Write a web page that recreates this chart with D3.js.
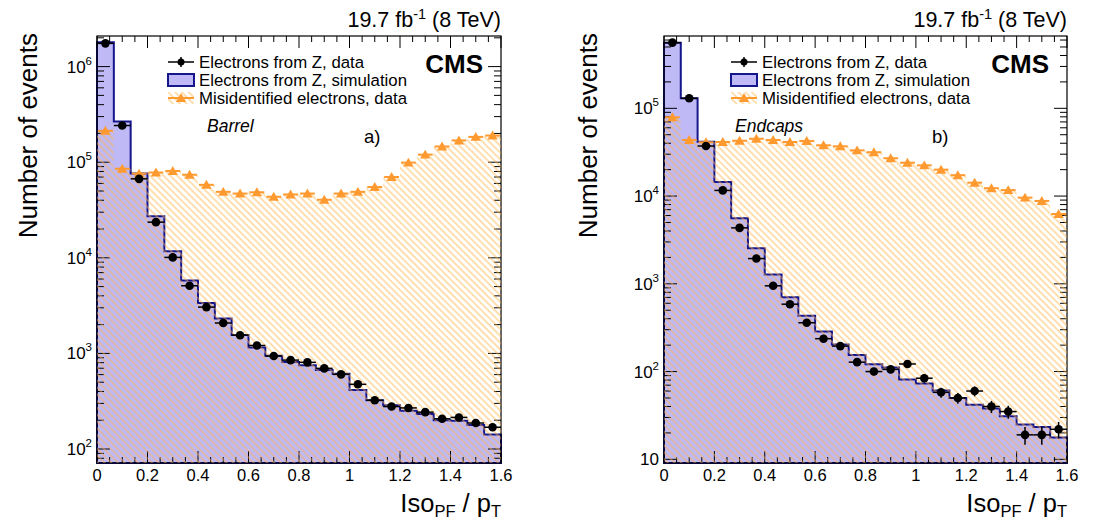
<!DOCTYPE html>
<html lang="en">
<head>
    <meta charset="UTF-8">
    <title>Electron isolation, barrel and endcaps</title>
    <style>
        body, html {
            margin: 0;
            background-color: #ffffff;
        }
        svg {
            display: block;
            font-family: "Liberation Sans", Arial, Helvetica, sans-serif;
        }
    </style>
</head>
<body>
    <script src="https://d3js.org/d3.v7.min.js"></script>
    <script>
        // Canvas
        var width = 1102,
            height = 527;

        // 24 bins from 0 to 1.6
        var nBins = 24,
            xMax = 1.6;

        // Barrel (a)
        var barrelZData = [1.75e6, 2.42e5, 6.7e4, 2.36e4, 1.01e4, 5.1e3, 3.05e3, 2.08e3,
                           1.55e3, 1.21e3, 938, 851, 806, 698, 604, 475,
                           324, 278, 269, 243, 207, 214, 187, 169];
        var barrelZSim = [1.8e6, 2.67e5, 7.6e4, 2.72e4, 1.17e4, 5.8e3, 3.37e3, 2.32e3,
                          1.56e3, 1.15e3, 944, 811, 750, 670, 613, 415,
                          324, 287, 252, 232, 200, 197, 178, 142];
        var barrelMisId = [2.13e5, 8.55e4, 7.6e4, 7.8e4, 8.1e4, 7.4e4, 5.8e4, 4.9e4,
                           4.7e4, 4.85e4, 4.35e4, 4.6e4, 4.7e4, 4.05e4, 4.7e4, 4.9e4,
                           5.5e4, 7.0e4, 9.9e4, 1.2e5, 1.46e5, 1.69e5, 1.84e5, 1.9e5];

        // Endcaps (b)
        var endcapZData = [5.6e5, 1.3e5, 3.72e4, 1.16e4, 4.34e3, 1.94e3, 949, 586,
                           360, 237, 195, 128, 100, 106, 122, 84,
                           58, 50, 60, 40, 35, 19, 19, 22];
        var endcapZSim = [5.6e5, 1.3e5, 4.17e4, 1.45e4, 5.58e3, 2.54e3, 1.28e3, 705,
                          433, 286, 204, 154, 121, 111, 81, 73,
                          61, 50, 42, 38, 31, 25, 23.4, 17.7];
        var endcapMisId = [7.9e4, 4.36e4, 4.1e4, 4.13e4, 4.27e4, 4.5e4, 4.36e4, 4.13e4,
                           4.25e4, 3.79e4, 3.69e4, 3.32e4, 3.16e4, 2.7e4, 2.4e4, 2.24e4,
                           2.0e4, 1.73e4, 1.42e4, 1.23e4, 1.17e4, 9.6e3, 8.8e3, 6.25e3];

        var xTickValues = [0, 0.2, 0.4, 0.6, 0.8, 1, 1.2, 1.4, 1.6];
        var legendLabels = ["Electrons from Z, data",
                            "Electrons from Z, simulation",
                            "Misidentified electrons, data"];
        var lumiText = "19.7 fb";

        var purple = "#bfb9f6",
            navy = "#16168c",
            orange = "#ff9a30",
            hatchColor = "#ffb446";

        var svg = d3.select("body").append("svg")
            .attr("width", width)
            .attr("height", height);

        // hatch pattern for the misidentified electrons
        svg.append("defs").append("pattern")
            .attr("id", "hatch")
            .attr("patternUnits", "userSpaceOnUse")
            .attr("width", 4.8)
            .attr("height", 4.8)
            .attr("patternTransform", "rotate(-45)")
            .append("line")
            .attr("x1", 1).attr("y1", 0)
            .attr("x2", 1).attr("y2", 4.8)
            .attr("stroke", hatchColor)
            .attr("stroke-width", 0.85);

        function drawPanel(p) {
            var g = svg.append("g");
            var x = d3.scaleLinear().domain([0, xMax]).range([p.x0, p.x1]);
            var y = d3.scaleLog().domain(p.yDomain).range([p.y1, p.y0]);
            var bw = xMax / nBins;

            function stepPoints(vals) {
                var pts = vals.map(function(v, i) { return [i * bw, v]; });
                pts.push([xMax, vals[vals.length - 1]]);
                return pts;
            }
            var area = d3.area()
                .curve(d3.curveStepAfter)
                .x(function(d) { return x(d[0]); })
                .y0(p.y1)
                .y1(function(d) { return y(Math.max(d[1], p.yDomain[0])); });

            // simulation histogram
            g.append("path")
                .attr("d", area(stepPoints(p.sim)))
                .attr("fill", purple)
                .attr("stroke", navy)
                .attr("stroke-width", 2);

            // frame
            g.append("rect")
                .attr("x", p.x0).attr("y", p.y0)
                .attr("width", p.x1 - p.x0).attr("height", p.y1 - p.y0)
                .attr("fill", "none")
                .attr("stroke", "#000")
                .attr("stroke-width", 1.2);

            // x ticks (bottom and top, inward)
            var xMinor = d3.range(0, xMax + 1e-9, 0.05);
            xMinor.forEach(function(v) {
                var major = Math.abs(v / 0.2 - Math.round(v / 0.2)) < 1e-6;
                var len = major ? 12 : 6;
                g.append("line").attr("x1", x(v)).attr("x2", x(v))
                    .attr("y1", p.y1).attr("y2", p.y1 - len)
                    .attr("stroke", "#000").attr("stroke-width", 1);
                g.append("line").attr("x1", x(v)).attr("x2", x(v))
                    .attr("y1", p.y0).attr("y2", p.y0 + len)
                    .attr("stroke", "#000").attr("stroke-width", 1);
            });

            // y ticks (left and right, inward)
            var lo = Math.floor(Math.log10(p.yDomain[0])),
                hi = Math.ceil(Math.log10(p.yDomain[1]));
            for (var e = lo; e <= hi; e++) {
                for (var m = 1; m <= 9; m++) {
                    var v = m * Math.pow(10, e);
                    if (v < p.yDomain[0] || v > p.yDomain[1]) continue;
                    var len = m === 1 ? 13 : 7;
                    g.append("line").attr("x1", p.x0).attr("x2", p.x0 + len)
                        .attr("y1", y(v)).attr("y2", y(v))
                        .attr("stroke", "#000").attr("stroke-width", 1);
                    g.append("line").attr("x1", p.x1).attr("x2", p.x1 - len)
                        .attr("y1", y(v)).attr("y2", y(v))
                        .attr("stroke", "#000").attr("stroke-width", 1);
                    if (m === 1) {
                        var t = g.append("text")
                            .attr("x", p.x0 - 5)
                            .attr("y", y(v) + 6)
                            .attr("text-anchor", "end")
                            .attr("font-size", 17)
                            .text("10");
                        if (e !== 1) {
                            t.append("tspan")
                                .attr("font-size", 11.5)
                                .attr("dy", -8)
                                .text(e);
                        }
                    }
                }
            }

            // misidentified electrons, hatched
            g.append("path")
                .attr("d", area(stepPoints(p.misId)))
                .attr("fill", "url(#hatch)");

            // misidentified markers
            p.misId.forEach(function(v, i) {
                var cx = x((i + 0.5) * bw), cy = y(v);
                g.append("line")
                    .attr("x1", x(i * bw) + 1).attr("x2", x((i + 1) * bw) - 1)
                    .attr("y1", cy).attr("y2", cy)
                    .attr("stroke", orange).attr("stroke-width", 2);
                g.append("path")
                    .attr("d", d3.symbol(d3.symbolTriangle, 46)())
                    .attr("transform", "translate(" + cx + "," + (cy + 1) + ")")
                    .attr("fill", orange);
            });

            // Z data points with errors
            p.data.forEach(function(v, i) {
                var cx = x((i + 0.5) * bw), cy = y(v);
                var err = Math.sqrt(v);
                g.append("line")
                    .attr("x1", x(i * bw)).attr("x2", x((i + 1) * bw))
                    .attr("y1", cy).attr("y2", cy)
                    .attr("stroke", "#000").attr("stroke-width", 1.5);
                g.append("line")
                    .attr("x1", cx).attr("x2", cx)
                    .attr("y1", y(v + err)).attr("y2", y(Math.max(v - err, p.yDomain[0])))
                    .attr("stroke", "#000").attr("stroke-width", 1.5);
                g.append("circle")
                    .attr("cx", cx).attr("cy", cy).attr("r", 4.3)
                    .attr("fill", "#000");
            });

            // x tick labels
            var fmt = d3.format("~g");
            xTickValues.forEach(function(v) {
                g.append("text")
                    .attr("x", x(v)).attr("y", p.y1 + 18)
                    .attr("text-anchor", "middle")
                    .attr("font-size", 16.5)
                    .text(fmt(v));
            });

            // axis titles
            var xl = g.append("text")
                .attr("x", p.x1).attr("y", p.y1 + 49)
                .attr("text-anchor", "end")
                .attr("font-size", 25.5);
            xl.append("tspan").text("Iso");
            xl.append("tspan").attr("font-size", 16.5).attr("dy", 5).text("PF");
            xl.append("tspan").attr("dy", -5).text(" / p");
            xl.append("tspan").attr("font-size", 16.5).attr("dy", 5).text("T");

            g.append("text")
                .attr("transform", "translate(" + p.yLabelX + "," + (p.y0 - 3) + ") rotate(-90)")
                .attr("text-anchor", "end")
                .attr("font-size", 26)
                .text("Number of events");

            // luminosity
            var lt = g.append("text")
                .attr("x", p.x1).attr("y", p.y0 - 9)
                .attr("text-anchor", "end")
                .attr("font-size", 21.5);
            lt.append("tspan").text(lumiText);
            lt.append("tspan").attr("font-size", 14.5).attr("dy", -8).text("-1");
            lt.append("tspan").attr("dy", 8).text(" (8 TeV)");

            // CMS
            g.append("text")
                .attr("x", p.x1 - 18).attr("y", p.y0 + 37)
                .attr("text-anchor", "end")
                .attr("font-size", 26)
                .attr("font-weight", "bold")
                .text("CMS");

            // region label and panel letter
            g.append("text")
                .attr("x", p.regionX).attr("y", p.y0 + 96)
                .attr("font-size", 17.5)
                .attr("font-style", "italic")
                .text(p.region);
            g.append("text")
                .attr("x", p.letterX).attr("y", p.y0 + 107)
                .attr("font-size", 18.5)
                .text(p.letter);

            // legend
            var lx = p.legendX, rows = [p.y0 + 26, p.y0 + 44, p.y0 + 62];
            g.append("line").attr("x1", lx).attr("x2", lx + 26)
                .attr("y1", rows[0]).attr("y2", rows[0])
                .attr("stroke", "#000").attr("stroke-width", 1.5);
            g.append("line").attr("x1", lx + 13).attr("x2", lx + 13)
                .attr("y1", rows[0] - 5).attr("y2", rows[0] + 5)
                .attr("stroke", "#000").attr("stroke-width", 1.5);
            g.append("circle").attr("cx", lx + 13).attr("cy", rows[0]).attr("r", 3.5)
                .attr("fill", "#000");
            g.append("rect").attr("x", lx).attr("y", rows[1] - 6)
                .attr("width", 26).attr("height", 12)
                .attr("fill", purple).attr("stroke", navy).attr("stroke-width", 2);
            g.append("rect").attr("x", lx).attr("y", rows[2] - 6)
                .attr("width", 26).attr("height", 12)
                .attr("fill", "url(#hatch)");
            g.append("line").attr("x1", lx).attr("x2", lx + 26)
                .attr("y1", rows[2]).attr("y2", rows[2])
                .attr("stroke", orange).attr("stroke-width", 2);
            g.append("path")
                .attr("d", d3.symbol(d3.symbolTriangle, 46)())
                .attr("transform", "translate(" + (lx + 13) + "," + (rows[2] + 1) + ")")
                .attr("fill", orange);
            legendLabels.forEach(function(s, i) {
                g.append("text")
                    .attr("x", lx + 31).attr("y", rows[i] + 6)
                    .attr("font-size", 16.8)
                    .text(s);
            });
        }

        drawPanel({
            x0: 97, x1: 501, y0: 36, y1: 463,
            yDomain: [71.4, 2.09e6],
            data: barrelZData, sim: barrelZSim, misId: barrelMisId,
            yLabelX: 37, legendX: 168,
            region: "Barrel", regionX: 207,
            letter: "a)", letterX: 364
        });

        drawPanel({
            x0: 664, x1: 1067, y0: 36, y1: 463,
            yDomain: [9.08, 6.67e5],
            data: endcapZData, sim: endcapZSim, misId: endcapMisId,
            yLabelX: 597, legendX: 731,
            region: "Endcaps", regionX: 735,
            letter: "b)", letterX: 932
        });
    </script>
</body>
</html>
